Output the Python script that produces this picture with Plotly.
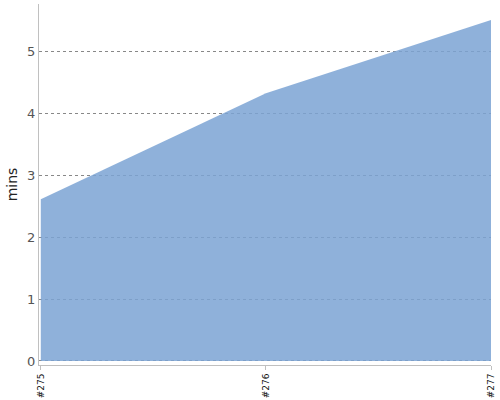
import plotly.graph_objects as go

builds = ["#275", "#276", "#277"]
minutes = [2.61, 4.32, 5.50]

fig = go.Figure(
	data=[
		go.Scatter(
			x=builds,
			y=minutes,
			mode="lines",
			fill="tozeroy",
			# slightly see-through so the dotted grid shows on the area
			fillcolor="rgba(123,163,211,0.85)",
			line=dict(width=0, color="#8fb1da"),
			hoverinfo="x+y",
		)
	]
)

fig.update_layout(
	width=500,
	height=400,
	margin=dict(l=39, r=9, t=4, b=35),
	paper_bgcolor="white",
	plot_bgcolor="white",
	showlegend=False,
	font=dict(family="DejaVu Sans", color="#555555"),
)
fig.update_xaxes(
	type="category",
	range=[-0.008, 2],
	automargin=False,
	showgrid=False,
	showline=True,
	linecolor="#c0c0c0",
	linewidth=1,
	ticks="outside",
	ticklen=4,
	tickcolor="#c0c0c0",
	tickangle=-90,
	tickfont=dict(size=9, color="#111111"),
	zeroline=False,
)
fig.update_yaxes(
	range=[-0.065, 5.76],
	tickvals=[0, 1, 2, 3, 4, 5],
	automargin=False,
	showgrid=True,
	gridcolor="#888888",
	griddash="dot",
	gridwidth=1,
	showline=True,
	linecolor="#c0c0c0",
	linewidth=1,
	ticks="",
	tickfont=dict(size=13, color="#555555"),
	zeroline=False,
	title=dict(text="mins", font=dict(size=14, color="#222222"), standoff=6),
)

# drop the page's default body margin so the chart sits at the top-left corner
fig.write_html(
	"out.html",
	config={"displayModeBar": False},
	post_script="document.body.style.margin='0';",
)
